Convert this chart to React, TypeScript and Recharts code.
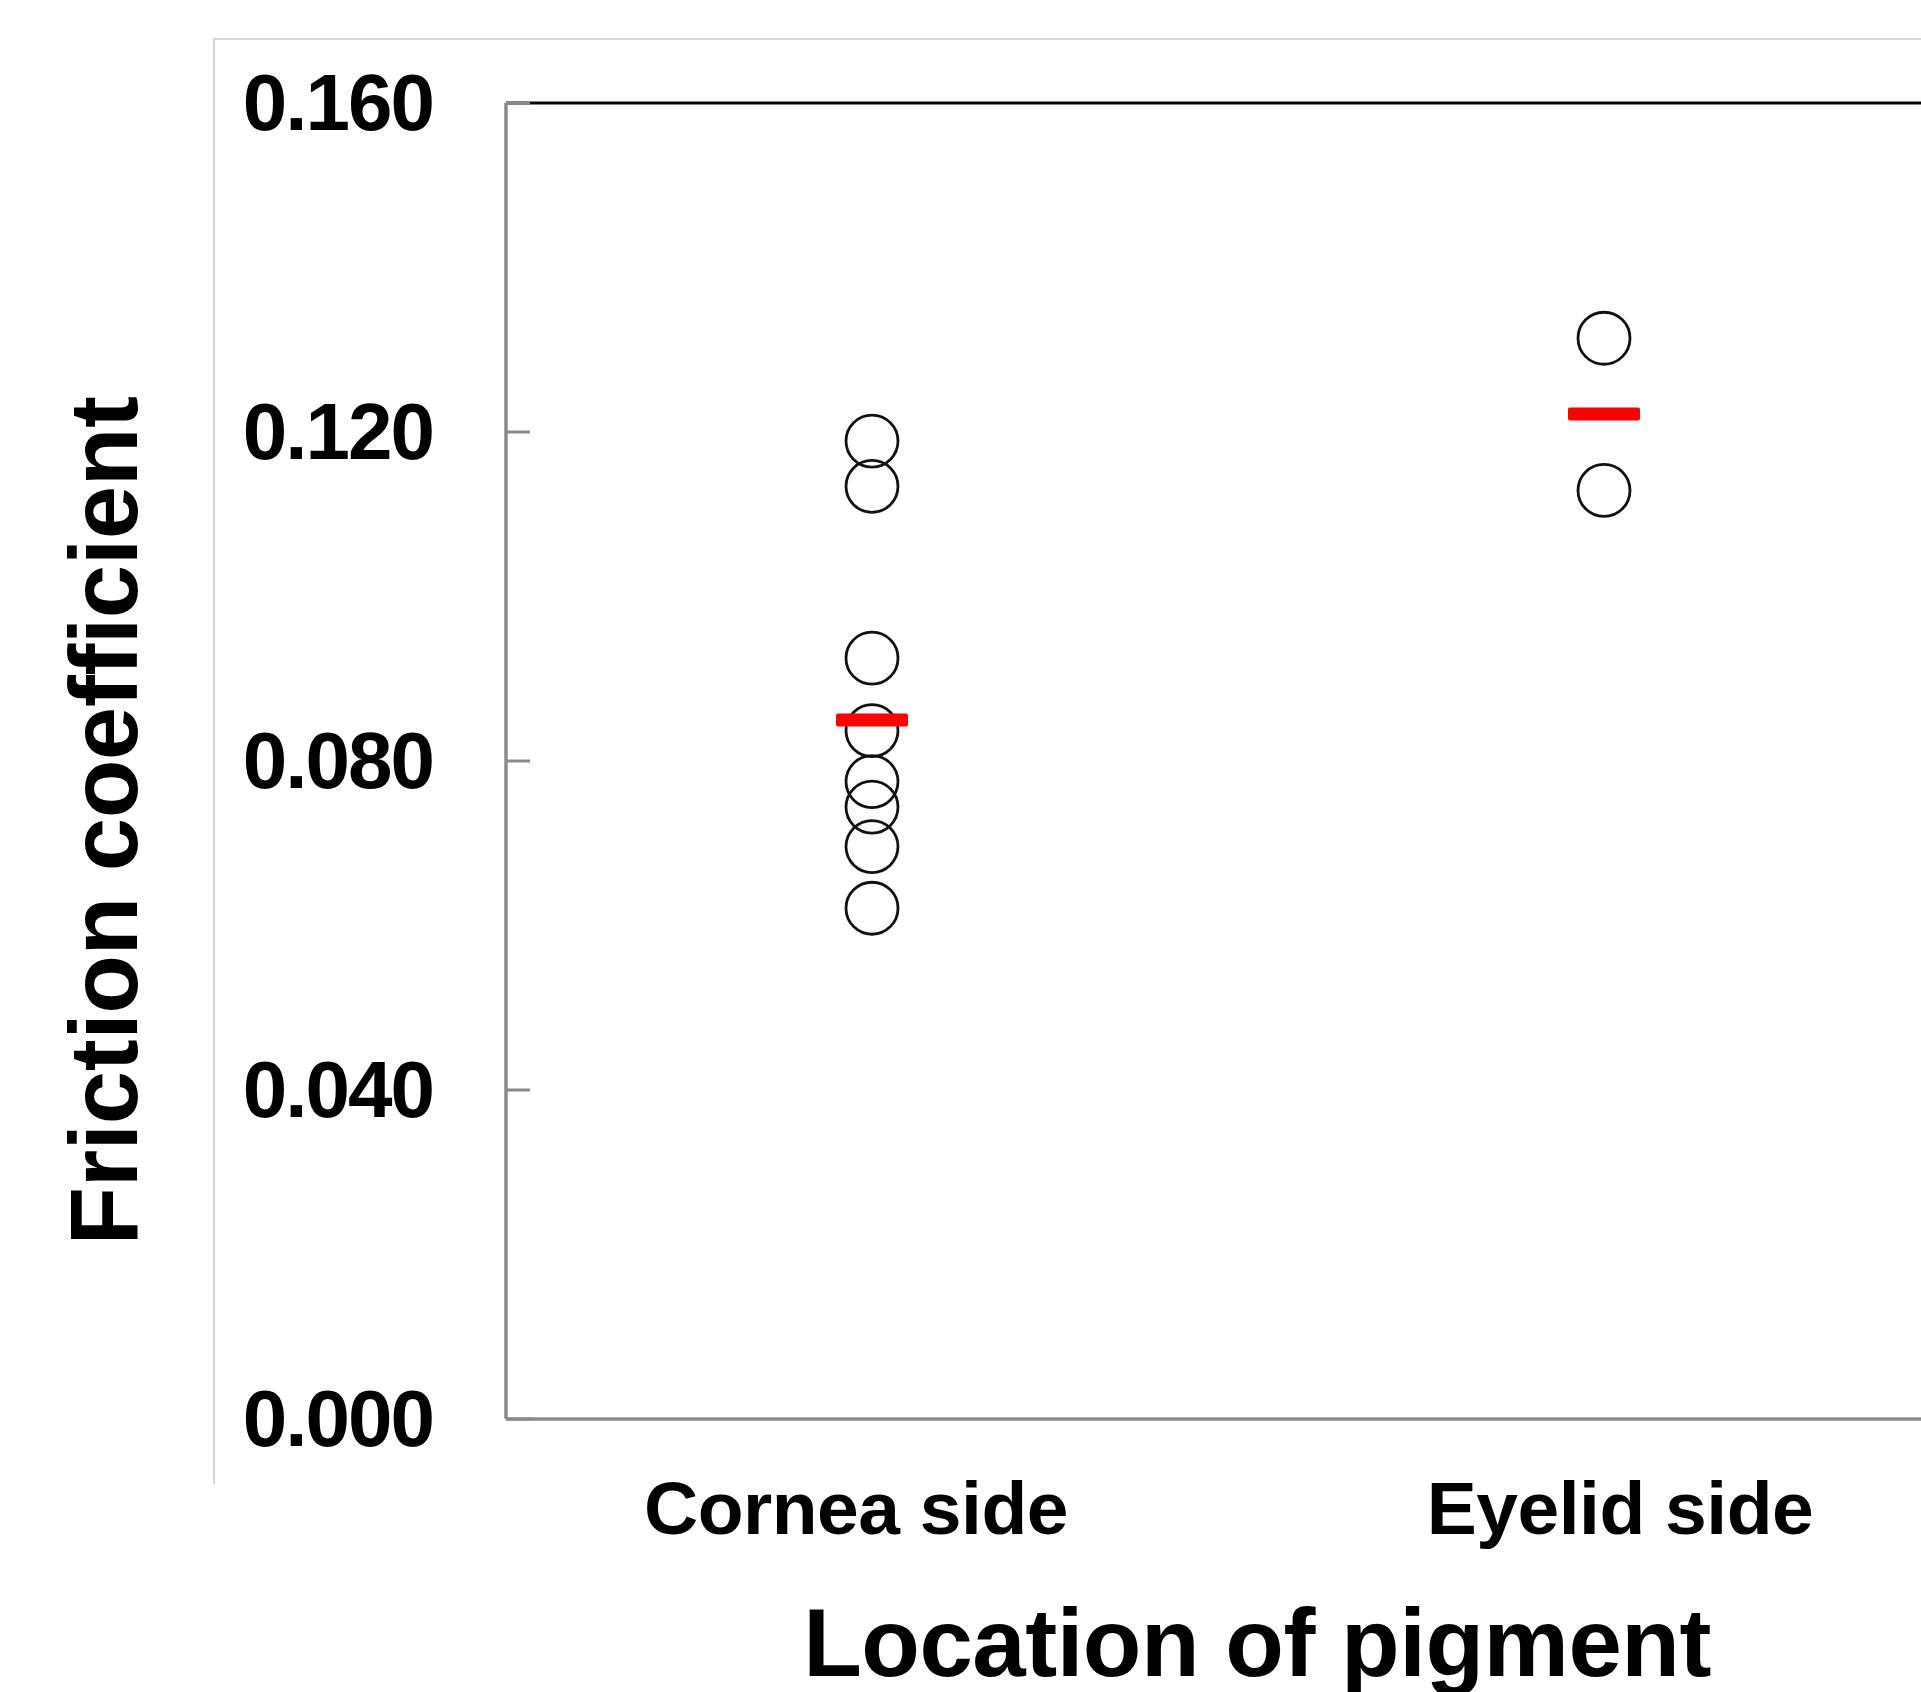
import React from 'react';
import { ScatterChart, Scatter, XAxis, YAxis, ReferenceLine } from 'recharts';

const categories = ['Cornea side', 'Eyelid side'];
const corneaValues = [0.1189, 0.1134, 0.0925, 0.0837, 0.0775, 0.0744, 0.0696, 0.0621];
const eyelidValues = [0.1314, 0.1129];
const meanValues = [0.085, 0.1222];
const yTicks = [0, 0.04, 0.08, 0.12, 0.16];
const xTitle = 'Location of pigment';
const yTitle = 'Friction coefficient';

const seriesValues = [corneaValues, eyelidValues];
const pointData = seriesValues.flatMap((vals, i) => vals.map((v) => ({ x: i + 1, y: v })));
const meanData = meanValues.map((v, i) => ({ x: i + 1, y: v }));

const FONT = '"Liberation Sans", Arial, Helvetica, sans-serif';
const AXIS_GRAY = '#8a8a8a';

const YTick = (props: any) => {
  const { x, y, payload } = props;
  return (
    <g>
      <line x1={x} x2={x + 24} y1={y} y2={y} stroke={AXIS_GRAY} strokeWidth={3} />
      <text
        x={x - 73}
        y={y + 27}
        textAnchor="end"
        fontFamily={FONT}
        fontWeight="bold"
        fontSize={80}
        letterSpacing={-2}
        fill="#000"
      >
        {Number(payload.value).toFixed(3)}
      </text>
    </g>
  );
};

const XTick = (props: any) => {
  const { x, y, payload, index } = props;
  const label = categories[Number(payload.value) - 1];
  const shift = index === 0 ? -16 : 16;
  return (
    <text
      x={x + shift}
      y={y + 115}
      textAnchor="middle"
      fontFamily={FONT}
      fontWeight="bold"
      fontSize={75}
      letterSpacing={-0.5}
      fill="#000"
    >
      {label}
    </text>
  );
};

const CircleShape = (props: any) => (
  <circle cx={props.cx} cy={props.cy} r={26} fill="none" stroke="#111" strokeWidth={2.8} />
);

const MeanShape = (props: any) => (
  <rect x={props.cx - 36} y={props.cy - 6.5} width={72} height={13} rx={2} fill="#ff0000" />
);

export default function App() {
  return (
    <div
      style={{
        position: 'fixed',
        left: 0,
        top: 0,
        width: 1921,
        height: 1692,
        overflow: 'hidden',
        background: '#fff',
      }}
    >
      <div
        style={{
          position: 'absolute',
          left: 213,
          top: 38,
          width: 1800,
          height: 1446,
          borderLeft: '2px solid #d6d6d6',
          borderTop: '2px solid #d6d6d6',
          boxSizing: 'border-box',
        }}
      />
      <div style={{ position: 'absolute', left: 0, top: 0 }}>
        <ScatterChart width={2000} height={1692} margin={{ top: 103, right: 30, bottom: 0, left: 0 }}>
          <XAxis
            type="number"
            dataKey="x"
            domain={[0.5, 2.5]}
            ticks={[1, 2]}
            height={273}
            tickLine={false}
            tickSize={0}
            tickMargin={0}
            axisLine={{ stroke: AXIS_GRAY, strokeWidth: 3.5 }}
            tick={<XTick />}
            interval={0}
            label={{
              content: (p: any) => {
                const vb = p.viewBox || {};
                const cx = vb.x + vb.width / 2 + 19;
                return (
                  <text
                    x={cx}
                    y={1676}
                    textAnchor="middle"
                    fontFamily={FONT}
                    fontWeight="bold"
                    fontSize={96}
                    letterSpacing={-0.5}
                    fill="#000"
                  >
                    {xTitle}
                  </text>
                );
              },
            }}
          />
          <YAxis
            type="number"
            dataKey="y"
            domain={[0, 0.16]}
            ticks={yTicks}
            width={506}
            tickLine={false}
            tickSize={0}
            tickMargin={0}
            axisLine={{ stroke: AXIS_GRAY, strokeWidth: 3.5 }}
            tick={<YTick />}
            interval={0}
            label={{
              content: (p: any) => {
                const vb = p.viewBox || {};
                const cy = vb.y + vb.height / 2 + 60;
                return (
                  <text
                    x={137}
                    y={cy}
                    transform={`rotate(-90, 137, ${cy})`}
                    textAnchor="middle"
                    fontFamily={FONT}
                    fontWeight="bold"
                    fontSize={96}
                    letterSpacing={-0.5}
                    fill="#000"
                  >
                    {yTitle}
                  </text>
                );
              },
            }}
          />
          <ReferenceLine y={0.16} stroke="#000" strokeWidth={3} />
          <Scatter data={pointData} shape={<CircleShape />} isAnimationActive={false} />
          <Scatter data={meanData} shape={<MeanShape />} isAnimationActive={false} />
        </ScatterChart>
      </div>
    </div>
  );
}
